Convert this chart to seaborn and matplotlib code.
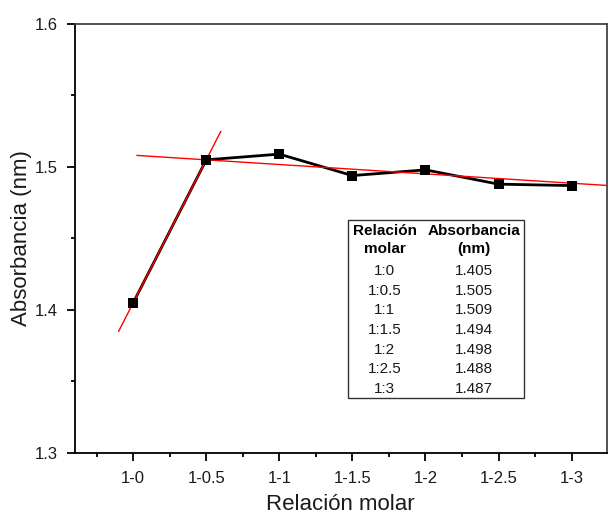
import numpy as np
import pandas as pd
import matplotlib
matplotlib.use("Agg")
import matplotlib.pyplot as plt
from matplotlib.ticker import MultipleLocator, FixedLocator
import seaborn as sns

# ---- data ----
tick_labels = ["1-0", "1-0.5", "1-1", "1-1.5", "1-2", "1-2.5", "1-3"]
table_labels = ["1:0", "1:0.5", "1:1", "1:1.5", "1:2", "1:2.5", "1:3"]
absorbance = [1.405, 1.505, 1.509, 1.494, 1.498, 1.488, 1.487]
positions = list(range(len(tick_labels)))

sns.set_theme(style="white")
plt.rcParams["font.family"] = ["Liberation Sans", "DejaVu Sans"]

fig = plt.figure(figsize=(6.08, 5.17), dpi=100)
ax = fig.add_axes([0.1229, 0.1238, 0.8749, 0.8298])

df = pd.DataFrame({"pos": positions, "abs": absorbance})

# connecting black line
sns.lineplot(data=df, x="pos", y="abs", color="black", linewidth=2, ax=ax, zorder=2)

# red trend line 1: through the first two points
x_a = np.array(positions[:2], dtype=float)
y_a = np.array(absorbance[:2])
pa = np.polyfit(x_a, y_a, 1)
xa_line = np.array([-0.2, 1.2])
sns.lineplot(x=xa_line, y=np.polyval(pa, xa_line), color="red", linewidth=1, ax=ax, zorder=3)

# red trend line 2: through the break point and the centroid of the plateau
x_b = np.array(positions[1:], dtype=float)
y_b = np.array(absorbance[1:])
slope_b = (y_b.mean() - y_b[0]) / (x_b.mean() - x_b[0])
xb_line = np.array([0.05, 6.5])
yb_line = y_b[0] + slope_b * (xb_line - x_b[0])
sns.lineplot(x=xb_line, y=yb_line, color="red", linewidth=1, ax=ax, zorder=3)

# markers
sns.scatterplot(data=df, x="pos", y="abs", marker="s", color="black", s=60,
                edgecolor="black", linewidth=0, ax=ax, zorder=4)

ax.set_xlim(-0.8, 6.48)
ax.set_ylim(1.3, 1.6)
ax.set_xticks(positions)
ax.set_xticklabels(tick_labels)
ax.xaxis.set_minor_locator(FixedLocator([p + 0.5 for p in [-1] + positions]))
ax.set_yticks([1.3, 1.4, 1.5, 1.6])
ax.set_yticklabels(["1.3", "1.4", "1.5", "1.6"])
ax.yaxis.set_minor_locator(MultipleLocator(0.05))

ax.tick_params(axis="both", which="major", direction="out", length=6, width=1.3,
               labelsize=12, color="black", labelcolor="#1a1a1a", pad=7,
               bottom=True, left=True, top=False, right=False)
ax.tick_params(axis="both", which="minor", direction="out", length=3, width=1.3,
               color="black", bottom=True, left=True, top=False, right=False)
ax.tick_params(axis="y", which="major", pad=6)

for side in ["left", "bottom"]:
    ax.spines[side].set_color("black")
    ax.spines[side].set_linewidth(1.3)
for side in ["top", "right"]:
    ax.spines[side].set_color("#444444")
    ax.spines[side].set_linewidth(1.3)

ax.set_xlabel("Relación molar", fontsize=16, color="#1a1a1a", labelpad=6)
ax.set_ylabel("Absorbancia (nm)", fontsize=16, color="#1a1a1a", labelpad=2)

# data table
box_l, box_r, box_b, box_t = 0.514, 0.845, 0.128, 0.543
ax.add_patch(plt.Rectangle((box_l, box_b), box_r - box_l, box_t - box_b,
                           transform=ax.transAxes, fill=False,
                           edgecolor="#333333", linewidth=1, zorder=5))
c1, c2 = 0.583, 0.751
fs = 11
ax.text(c1, 0.5175, "Relación", transform=ax.transAxes, ha="center", va="center",
        fontsize=fs, fontweight="bold", color="black")
ax.text(c1, 0.4755, "molar", transform=ax.transAxes, ha="center", va="center",
        fontsize=fs, fontweight="bold", color="black")
ax.text(c2, 0.5175, "Absorbancia", transform=ax.transAxes, ha="center", va="center",
        fontsize=fs, fontweight="bold", color="black")
ax.text(c2, 0.4755, "(nm)", transform=ax.transAxes, ha="center", va="center",
        fontsize=fs, fontweight="bold", color="black")
for i, (lab, val) in enumerate(zip(table_labels, absorbance)):
    yy = 0.4242 - 0.0459 * i
    ax.text(c1, yy, lab, transform=ax.transAxes, ha="center", va="center",
            fontsize=fs, color="#1a1a1a")
    ax.text(c2, yy, f"{val:.3f}", transform=ax.transAxes, ha="center", va="center",
            fontsize=fs, color="#1a1a1a")

fig.savefig("out.png", dpi=100)
